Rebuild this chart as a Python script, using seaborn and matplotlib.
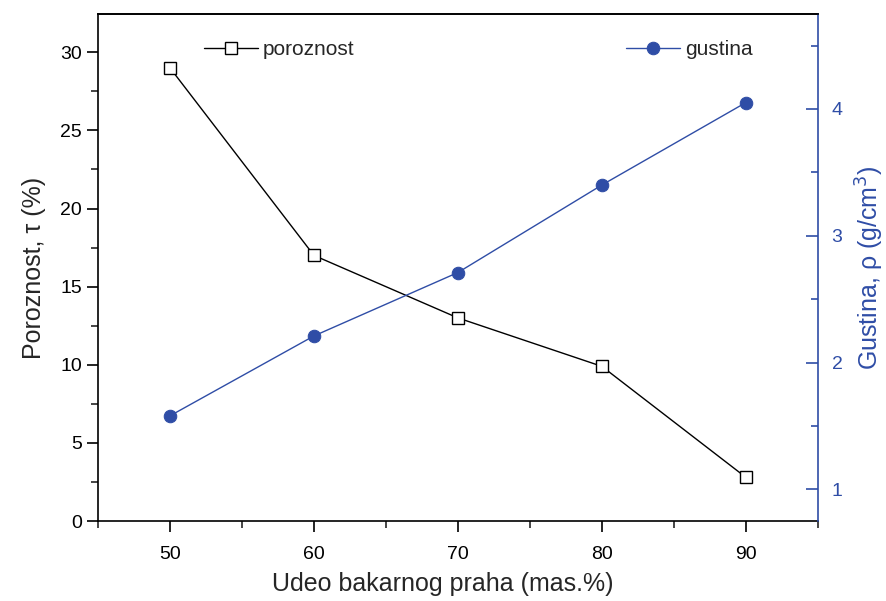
import matplotlib
matplotlib.use("Agg")
import matplotlib.pyplot as plt
import seaborn as sns
import pandas as pd
from matplotlib.ticker import MultipleLocator

udeo = [50, 60, 70, 80, 90]
poroznost = [29.0, 17.0, 13.0, 9.9, 2.8]
gustina = [1.58, 2.21, 2.71, 3.40, 4.05]

sns.set_theme(style="ticks")
plt.rcParams['font.family'] = ['Liberation Sans', 'DejaVu Sans']

BLUE = "#2F4DA6"

df = pd.DataFrame({"udeo": udeo, "poroznost": poroznost, "gustina": gustina})

fig = plt.figure(figsize=(8.87, 6.01), dpi=100)
ax = fig.add_axes([0.1105, 0.133, 0.8115, 0.844])
ax2 = ax.twinx()

sns.lineplot(data=df, x="udeo", y="poroznost", ax=ax, color="black", lw=1,
             marker="s", markersize=8, markerfacecolor="white",
             markeredgecolor="black", markeredgewidth=1, label="poroznost")
sns.lineplot(data=df, x="udeo", y="gustina", ax=ax2, color=BLUE, lw=1,
             marker="o", markersize=9, markerfacecolor=BLUE,
             markeredgecolor=BLUE, label="gustina")

ax.set_xlim(45, 95)
ax.set_ylim(0, 32.46)
ax2.set_ylim(0.75, 4.75)

ax.xaxis.set_major_locator(MultipleLocator(10))
ax.xaxis.set_minor_locator(MultipleLocator(5))
ax.yaxis.set_major_locator(MultipleLocator(5))
ax.yaxis.set_minor_locator(MultipleLocator(2.5))
ax2.yaxis.set_major_locator(MultipleLocator(1))
ax2.yaxis.set_minor_locator(MultipleLocator(0.5))

for s in ["left", "bottom", "top"]:
    ax.spines[s].set_linewidth(1.2)
    ax.spines[s].set_color("black")
ax.spines["right"].set_visible(False)
for s in ["left", "bottom"]:
    ax2.spines[s].set_visible(False)
ax2.spines["top"].set_visible(True)
ax2.spines["top"].set_color("black")
ax2.spines["top"].set_linewidth(1.2)
ax2.spines["right"].set_visible(True)
ax2.spines["right"].set_color(BLUE)
ax2.spines["right"].set_linewidth(1.2)

# left / bottom ticks outward
ax.tick_params(axis="both", which="major", direction="out", length=8, width=1.2,
               labelsize=14, colors="black", top=False, right=False)
ax.tick_params(axis="both", which="minor", direction="out", length=5, width=1.2,
               top=False, right=False)
ax.tick_params(axis="x", which="both", pad=10)

# top ticks inward (drawn via the twin axes sharing x)
ax2.tick_params(axis="x", which="major", direction="in", length=8, width=1.2,
                top=True, bottom=False, labeltop=False, labelbottom=False,
                colors="black")
ax2.tick_params(axis="x", which="minor", direction="in", length=5, width=1.2,
                top=True, bottom=False, colors="black")

ax2.tick_params(axis="y", which="major", direction="in", length=9, width=1.2,
                colors=BLUE, labelsize=14, labelcolor=BLUE, pad=10)
ax2.tick_params(axis="y", which="minor", direction="in", length=5, width=1.2,
                colors=BLUE)

ax.set_xlabel("Udeo bakarnog praha (mas.%)", fontsize=18)
ax.xaxis.set_label_coords(0.479, -0.1)
ax.set_ylabel("Poroznost, τ (%)", fontsize=18, labelpad=10)
ax2.set_ylabel("Gustina, ρ (g/cm$^3$)", fontsize=18, color=BLUE, labelpad=8)

ax.legend(loc="upper left", bbox_to_anchor=(0.135, 0.965), frameon=False,
          fontsize=15, handlelength=2.6, handletextpad=0.25, borderaxespad=0)
ax2.legend(loc="upper left", bbox_to_anchor=(0.722, 0.965), frameon=False,
           fontsize=15, handlelength=2.6, handletextpad=0.25, borderaxespad=0)

fig.savefig("out.png", dpi=100)
